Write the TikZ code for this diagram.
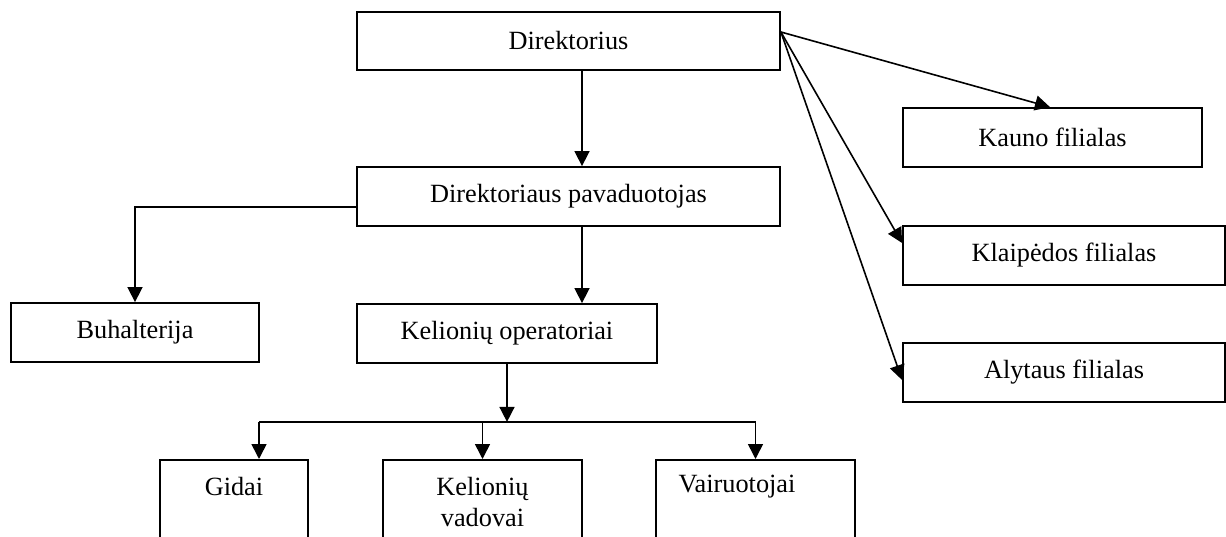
\documentclass[tikz,border=0pt]{standalone}
\usepackage{fontspec}
\setmainfont{Liberation Serif}
\usetikzlibrary{arrows.meta}
\begin{document}
\begin{tikzpicture}[x=1pt,y=-1pt,
  box/.style={draw,line width=1.8pt,inner sep=0pt,anchor=center},
  openbox/.style={draw,line width=1.8pt,inner sep=0pt,anchor=north},
  lbl/.style={font=\fontsize{26.3}{31}\selectfont,inner sep=0pt,align=center},
  arr/.style={line width=1.6pt,-{Triangle[length=15pt,width=15pt]}},
  ln/.style={line width=1.6pt}]
\clip (0,0) rectangle (1226,537);
\fill[white] (0,0) rectangle (1226,537);

% main chain
\node[box,minimum width=423,minimum height=58] (dir) at (568.5,41) {};
\node[lbl] (dirT) at (568.5,41) {Direktorius};
\node[box,minimum width=423,minimum height=59] (dep) at (568.5,196.5) {};
\node[lbl] (depT) at (568.5,196.5) {Direktoriaus pavaduotojas};
\node[box,minimum width=248,minimum height=59] (buh) at (135,332.5) {};
\node[lbl] (buhT) at (135,332.5) {Buhalterija};
\node[box,minimum width=300,minimum height=59] (ops) at (507,333.5) {};
\node[lbl] (opsT) at (507,333.5) {Kelionių operatoriai};

% branches
\node[box,minimum width=299,minimum height=59] (kau) at (1052.5,137.5) {};
\node[lbl] (kauT) at (1052.5,137.5) {Kauno filialas};
\node[box,minimum width=322,minimum height=59] (kla) at (1064,255.5) {};
\node[lbl] (klaT) at (1064,255.5) {Klaipėdos filialas};
\node[box,minimum width=322,minimum height=59] (aly) at (1064,372.5) {};
\node[lbl] (alyT) at (1064,372.5) {Alytaus filialas};

% staff boxes, running past the lower edge
\node[openbox,minimum width=148,minimum height=120] (gid) at (234,459) {};
\node[lbl] (gidT) at (234,487) {Gidai};
\node[openbox,minimum width=199,minimum height=120] (vad) at (482.5,459) {};
\node[lbl] (vadT) at (482.5,502.5) {Kelionių\\vadovai};
\node[openbox,minimum width=199,minimum height=120] (vai) at (755.5,459) {};
\node[lbl] (vaiT) at (737,487) {Vairuotojai};

% connectors
\draw[arr] ([xshift=13.5pt]dir.south) coordinate (d1) -- (d1 |- dep.north);
\draw[arr] ([xshift=13.5pt]dep.south) coordinate (d2) -- (d2 |- ops.north);
\draw[arr] ([yshift=-10.5pt]dep.west) -| (buh.north);

\coordinate (j) at ([yshift=-58pt]ops.south);
\draw[arr] (ops.south) -- (j);
\coordinate (gtop) at ([xshift=25pt]gid.north);
\draw[ln] (gtop |- j) -- (vai.north |- j);
\draw[arr] (gtop |- j) -- (gtop);
\draw[arr] (vad.north |- j) -- (vad.north);
\draw[arr] (vai.north |- j) -- (vai.north);

\coordinate (ds) at ([yshift=9pt]dir.east);
\draw[arr] (ds) -- ([xshift=-2.5pt]kau.north);
\draw[arr] (ds) -- ([yshift=12.5pt]kla.west);
\draw[arr] (ds) -- ([yshift=-7.5pt]aly.west);
\end{tikzpicture}
\end{document}
